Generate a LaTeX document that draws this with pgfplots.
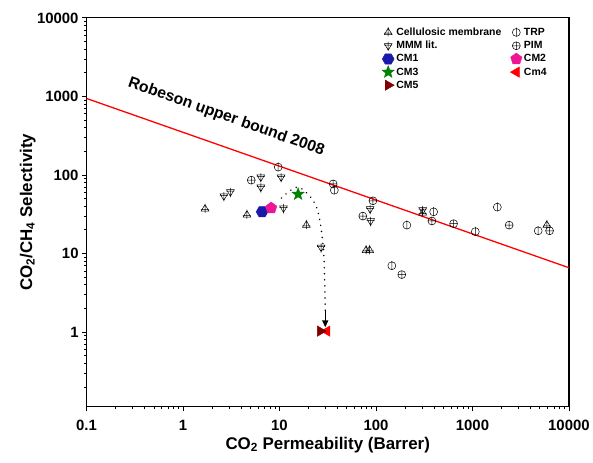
\documentclass[border=0pt]{standalone}
\usepackage{pgfplots}
\pgfplotsset{compat=1.18}
\usepackage{fontspec}
\setmainfont{Liberation Sans}
\usetikzlibrary{arrows.meta}

\definecolor{cmone}{RGB}{25,25,170}
\definecolor{cmtwo}{RGB}{240,20,150}
\definecolor{cmthree}{RGB}{0,130,0}
\definecolor{cmfour}{RGB}{255,0,0}
\definecolor{cmfive}{RGB}{128,0,0}

% open markers with crossing lines
\pgfdeclareplotmark{celltri}{%
  \pgfpathmoveto{\pgfpointpolar{90}{\pgfplotmarksize}}%
  \pgfpathlineto{\pgfpointpolar{210}{\pgfplotmarksize}}%
  \pgfpathlineto{\pgfpointpolar{330}{\pgfplotmarksize}}%
  \pgfpathclose
  \pgfpathmoveto{\pgfqpoint{0pt}{1.2\pgfplotmarksize}}%
  \pgfpathlineto{\pgfqpoint{0pt}{-0.9\pgfplotmarksize}}%
  \pgfpathmoveto{\pgfqpoint{-0.9\pgfplotmarksize}{-0.15\pgfplotmarksize}}%
  \pgfpathlineto{\pgfqpoint{0.9\pgfplotmarksize}{-0.15\pgfplotmarksize}}%
  \pgfusepathqstroke}
\pgfdeclareplotmark{mmmtri}{%
  \pgfpathmoveto{\pgfpointpolar{270}{\pgfplotmarksize}}%
  \pgfpathlineto{\pgfpointpolar{30}{\pgfplotmarksize}}%
  \pgfpathlineto{\pgfpointpolar{150}{\pgfplotmarksize}}%
  \pgfpathclose
  \pgfpathmoveto{\pgfqpoint{0pt}{-1.2\pgfplotmarksize}}%
  \pgfpathlineto{\pgfqpoint{0pt}{0.9\pgfplotmarksize}}%
  \pgfpathmoveto{\pgfqpoint{-0.9\pgfplotmarksize}{0.15\pgfplotmarksize}}%
  \pgfpathlineto{\pgfqpoint{0.9\pgfplotmarksize}{0.15\pgfplotmarksize}}%
  \pgfusepathqstroke}
\pgfdeclareplotmark{trpc}{%
  \pgfpathcircle{\pgfpointorigin}{\pgfplotmarksize}%
  \pgfpathmoveto{\pgfqpoint{0pt}{1.2\pgfplotmarksize}}%
  \pgfpathlineto{\pgfqpoint{0pt}{-\pgfplotmarksize}}%
  \pgfusepathqstroke}
\pgfdeclareplotmark{pimc}{%
  \pgfpathcircle{\pgfpointorigin}{\pgfplotmarksize}%
  \pgfpathmoveto{\pgfqpoint{0pt}{\pgfplotmarksize}}%
  \pgfpathlineto{\pgfqpoint{0pt}{-\pgfplotmarksize}}%
  \pgfpathmoveto{\pgfqpoint{-\pgfplotmarksize}{0pt}}%
  \pgfpathlineto{\pgfqpoint{\pgfplotmarksize}{0pt}}%
  \pgfusepathqstroke}
\pgfdeclareplotmark{hexagon*}{%
  \pgfpathmoveto{\pgfpointpolar{0}{\pgfplotmarksize}}%
  \pgfpathlineto{\pgfpointpolar{60}{\pgfplotmarksize}}%
  \pgfpathlineto{\pgfpointpolar{120}{\pgfplotmarksize}}%
  \pgfpathlineto{\pgfpointpolar{180}{\pgfplotmarksize}}%
  \pgfpathlineto{\pgfpointpolar{240}{\pgfplotmarksize}}%
  \pgfpathlineto{\pgfpointpolar{300}{\pgfplotmarksize}}%
  \pgfpathclose
  \pgfusepathqfillstroke}
\pgfdeclareplotmark{fstar}{%
  \pgfpathmoveto{\pgfpointpolar{90}{\pgfplotmarksize}}%
  \pgfpathlineto{\pgfpointpolar{126}{0.42\pgfplotmarksize}}%
  \pgfpathlineto{\pgfpointpolar{162}{\pgfplotmarksize}}%
  \pgfpathlineto{\pgfpointpolar{198}{0.42\pgfplotmarksize}}%
  \pgfpathlineto{\pgfpointpolar{234}{\pgfplotmarksize}}%
  \pgfpathlineto{\pgfpointpolar{270}{0.42\pgfplotmarksize}}%
  \pgfpathlineto{\pgfpointpolar{306}{\pgfplotmarksize}}%
  \pgfpathlineto{\pgfpointpolar{342}{0.42\pgfplotmarksize}}%
  \pgfpathlineto{\pgfpointpolar{18}{\pgfplotmarksize}}%
  \pgfpathlineto{\pgfpointpolar{54}{0.42\pgfplotmarksize}}%
  \pgfpathclose
  \pgfusepathqfillstroke}

\begin{document}
\begin{tikzpicture}
\begin{axis}[
    width=485pt, height=391pt, scale only axis,
    xmode=log, ymode=log,
    xmin=0.1, xmax=10000,
    ymin=0.112, ymax=10000,
    xtick={0.1,1,10,100,1000,10000},
    xticklabels={0.1,1,10,100,1000,10000},
    ytick={1,10,100,1000,10000},
    yticklabels={1,10,100,1000,10000},
    minor xtick={0.2,0.3,0.4,0.5,0.6,0.7,0.8,0.9,2,3,4,5,6,7,8,9,20,30,40,50,60,70,80,90,200,300,400,500,600,700,800,900,2000,3000,4000,5000,6000,7000,8000,9000},
    minor ytick={0.2,0.3,0.4,0.5,0.6,0.7,0.8,0.9,2,3,4,5,6,7,8,9,20,30,40,50,60,70,80,90,200,300,400,500,600,700,800,900,2000,3000,4000,5000,6000,7000,8000,9000},
    tick pos=left, tick align=outside,
    major tick length=4.5pt, minor tick length=2.5pt,
    axis line style={line width=1.2pt},
    every tick/.style={black, line width=0.9pt},
    ticklabel style={font=\fontsize{15}{18}\selectfont\bfseries},
    xticklabel style={yshift=-5pt},
    /pgf/number format/assume math mode=true,
    xlabel={CO\textsubscript{2} Permeability (Barrer)},
    ylabel={CO\textsubscript{2}/CH\textsubscript{4} Selectivity},
    xlabel style={at={(axis description cs:0.5,-0.098)}, anchor=center,
        font=\fontsize{17}{20}\selectfont\bfseries},
    ylabel style={at={(axis description cs:-0.122,0.5)}, rotate=0, anchor=center,
        font=\fontsize{17}{20}\selectfont\bfseries},
    legend columns=2,
    legend cell align=left,
    legend style={at={(axis description cs:0.606,0.985)}, anchor=north west,
        draw=none, fill=none, font=\fontsize{10.5}{12}\selectfont\bfseries,
        row sep=0.3pt,
        /tikz/every even column/.append style={column sep=7pt}},
]
% Cellulosic membrane
\addplot[only marks, mark=celltri, mark size=4.5pt, black, line width=0.5pt] coordinates {
    (1.69,37) (4.6,31) (19,23) (79,11) (86,11) (305,33) (5900,23)
};
\addlegendentry{Cellulosic membrane}
% TRP
\addplot[only marks, mark=trpc, mark size=4pt, black, line width=0.5pt] coordinates {
    (9.7,126) (37,64) (146,7) (396,34) (1810,39) (209,23) (1070,19) (4800,19.5)
};
\addlegendentry{TRP}
% MMM lit.
\addplot[only marks, mark=mmmtri, mark size=4.5pt, black, line width=0.5pt] coordinates {
    (2.65,54) (3.1,61) (6.4,94) (6.4,70) (10.4,94) (11,38) (27,12) (87,37) (88,26) (305,36)
};
\addlegendentry{MMM lit.}
% PIM
\addplot[only marks, mark=pimc, mark size=4pt, black, line width=0.5pt] coordinates {
    (5.1,86) (36,77) (73,30) (93,47) (185,5.4) (380,26) (637,24) (2400,23) (6300,19.5)
};
\addlegendentry{PIM}
% this work
\addplot[only marks, mark=hexagon*, mark size=6pt, cmone, fill=cmone] coordinates {(6.6,34)};
\addlegendentry{CM1}
\addplot[only marks, mark=pentagon*, mark size=6pt, cmtwo, fill=cmtwo] coordinates {(8.2,38)};
\addlegendentry{CM2}
\addplot[only marks, mark=fstar, mark size=6.5pt, cmthree, fill=cmthree] coordinates {(15.6,57)};
\addlegendentry{CM3}
\addplot[only marks, mark=triangle*, mark size=6pt, cmfour, fill=cmfour, mark options={rotate=90}] coordinates {(31,1.03)};
\addlegendentry{Cm4}
\addplot[only marks, mark=triangle*, mark size=6pt, cmfive, fill=cmfive, mark options={rotate=-90}] coordinates {(26.5,1.03)};
\addlegendentry{CM5}

% Robeson upper bound 2008
\addplot[red, line width=1.3pt, forget plot] coordinates {(0.1,943) (10000,6.6)};
\node[rotate=-19.5, font=\fontsize{15.8}{18}\selectfont\bfseries] at (axis cs:2.8,545) {Robeson upper bound 2008};

% dotted arrow
\addplot[black, line width=1.6pt, line cap=round, dash pattern=on 0.1pt off 6pt,
    smooth, forget plot] coordinates {
    (10.5,51) (15.7,70) (24,40) (28.5,11.6) (29.8,1.9)
};
\draw[-{Triangle[length=7pt,width=6pt]}, line width=1.4pt] (axis cs:29.8,1.9) -- (axis cs:29.8,1.15);

% page margins as in the reference
\coordinate (bl) at ([shift={(-87pt,-56pt)}]rel axis cs:0,0);
\coordinate (tr) at ([shift={(21pt,18pt)}]rel axis cs:1,1);
\end{axis}
\path (bl) rectangle (tr);
\end{tikzpicture}
\end{document}
